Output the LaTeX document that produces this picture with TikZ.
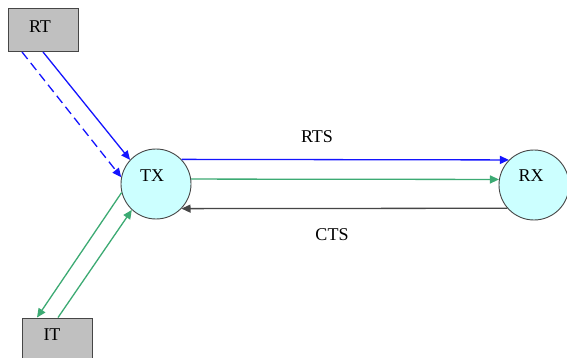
\documentclass[tikz,border=0pt]{standalone}
\usepackage{fontspec}
\setmainfont{Liberation Serif}
\usetikzlibrary{arrows.meta,calc}
\definecolor{boxgray}{RGB}{192,192,192}
\definecolor{nodecyan}{RGB}{204,255,255}
\definecolor{edgegray}{RGB}{70,70,70}
\definecolor{seagreen}{RGB}{60,170,115}
\definecolor{arrblue}{RGB}{20,20,255}
\tikzset{
  boxnode/.style={draw=edgegray, fill=boxgray, line width=0.9pt, minimum width=70pt, minimum height=43pt, inner sep=0pt},
  circnode/.style={draw=edgegray, fill=nodecyan, line width=0.9pt, circle, minimum size=70pt, inner sep=0pt},
  conn/.style={line width=1.3pt, -{Triangle[length=9pt,width=8pt]}},
  lbl/.style={font=\fontsize{18}{20}\selectfont}
}
\begin{document}
\begin{tikzpicture}[x=1pt,y=-1pt]
\clip (0,0) rectangle (567,358);
\useasboundingbox (0,0) rectangle (567,358);
\fill[white] (0,0) rectangle (567,358);
\node[boxnode] (RT) at (43,30) {};
\node[lbl] at (40,27) {RT};
\node[boxnode, minimum height=50pt] (IT) at (57,343) {};
\node[lbl] at (52,335) {IT};
\node[circnode] (TX) at (156,184) {};
\node[lbl] at (152,176) {TX};
\node[circnode] (RX) at (534,185) {};
\node[lbl] at (531,176) {RX};
% RT -> TX
\draw[conn, arrblue] (RT.south) -- (TX.137);
\draw[conn, arrblue, dash pattern=on 9pt off 5pt] ($(RT.south)+(-21,0)$) -- (TX.169);
% TX -> RX
\draw[conn, arrblue] (TX.44) -- (RX.135);
\draw[conn, seagreen] (TX.8) -- (RX.171);
\draw[conn, edgegray] (RX.221) -- (TX.316);
% TX <-> IT
\draw[conn, seagreen] (TX.194) -- ($(IT.north)+(-20,0)$);
\draw[conn, seagreen] ($(IT.north)+(1,0)$) -- (TX.227);
\node[lbl] (rts) at (317,137) {RTS};
\node[lbl] (cts) at (332,235) {CTS};
\end{tikzpicture}
\end{document}
